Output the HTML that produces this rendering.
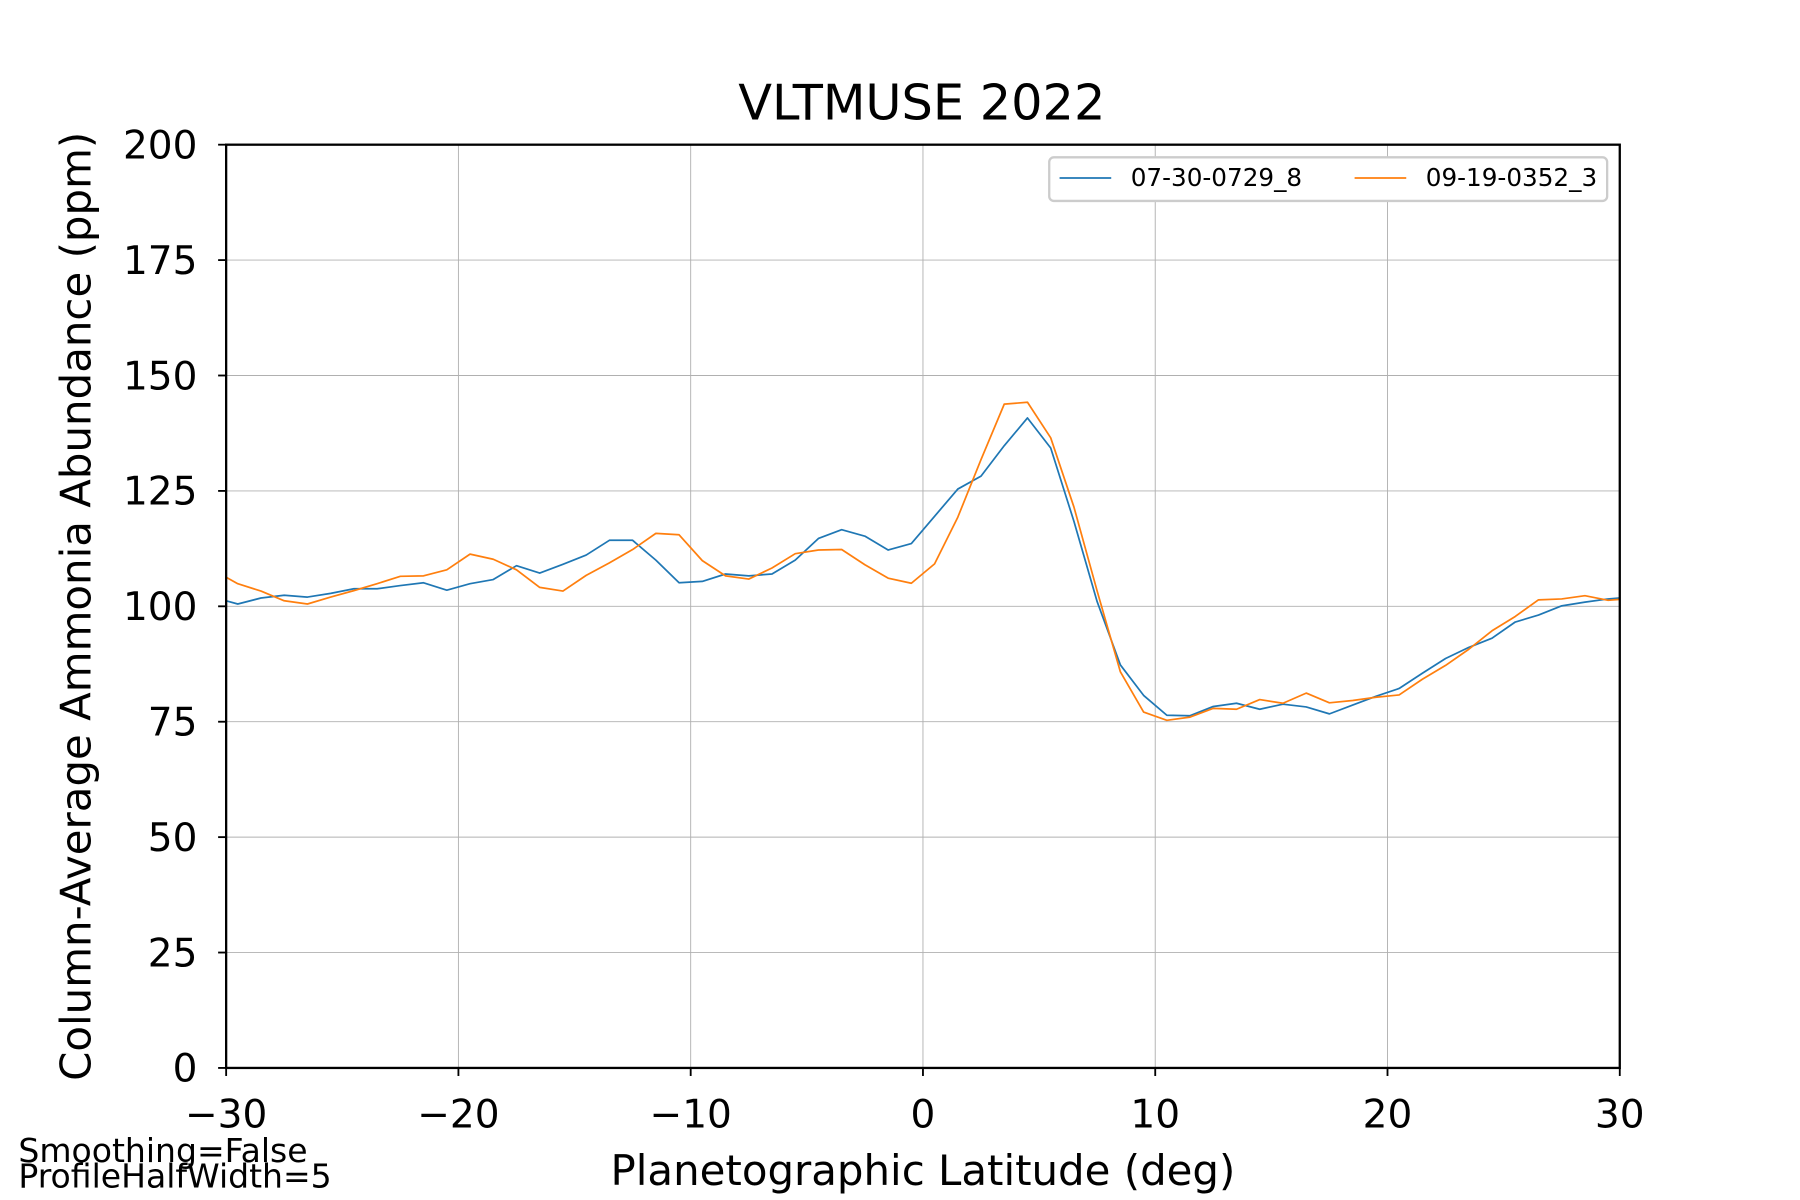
<!DOCTYPE html>
<html><head><meta charset="utf-8"><style>html,body{margin:0;padding:0;background:#fff}svg{display:block}text{font-family:"DejaVu Sans","Liberation Sans",sans-serif;fill:#000}</style></head>
<body>
<svg id="chart" width="1800" height="1200" viewBox="0 0 1568 1045" preserveAspectRatio="none" xmlns="http://www.w3.org/2000/svg">
<rect width="1568" height="1045" fill="#fff"/>
<g id="grid"></g>
<g id="series"></g>
<rect x="197" y="126" width="1214" height="804" fill="none" stroke="#000" stroke-width="2"/>
<g id="ticks"></g>
<text x="803" y="104" font-size="43" text-anchor="middle">VLTMUSE 2022</text>
<text x="804" y="1032" font-size="36.5" text-anchor="middle">Planetographic Latitude (deg)</text>
<text transform="translate(79,528) rotate(-90)" font-size="36.5" text-anchor="middle">Column-Average Ammonia Abundance (ppm)</text>
<text x="16" y="1012" font-size="28.8">Smoothing=False</text>
<text x="16" y="1034" font-size="28.8">ProfileHalfWidth=5</text>
<g>
<rect x="914" y="137" width="486" height="38" rx="4" fill="#fff" stroke="#ccc" stroke-width="2"/>
<line x1="923" y1="155" x2="968" y2="155" stroke="#1f77b4" stroke-width="1.6"/>
<text x="985" y="162" font-size="21.5">07-30-0729_8</text>
<line x1="1180" y1="155" x2="1225" y2="155" stroke="#ff7f0e" stroke-width="1.6"/>
<text x="1242" y="162" font-size="21.5">09-19-0352_3</text>
</g>
</svg>
<script>
const latitudes=[-30,-29.5,-28.5,-27.5,-26.5,-25.5,-24.5,-23.5,-22.5,-21.5,-20.5,-19.5,-18.5,-17.5,-16.5,-15.5,-14.5,-13.5,-12.5,-11.5,-10.5,-9.5,-8.5,-7.5,-6.5,-5.5,-4.5,-3.5,-2.5,-1.5,-0.5,0.5,1.5,2.5,3.5,4.5,5.5,6.5,7.5,8.5,9.5,10.5,11.5,12.5,13.5,14.5,15.5,16.5,17.5,18.5,19.5,20.5,21.5,22.5,23.5,24.5,25.5,26.5,27.5,28.5,29.5,30];
const seriesA=[101.2,100.5,101.8,102.4,102,102.8,103.8,103.8,104.5,105.1,103.5,104.9,105.8,108.8,107.2,109.1,111.1,114.3,114.3,110,105.1,105.4,107,106.6,107,110,114.7,116.6,115.2,112.2,113.6,119.5,125.4,128.2,134.8,140.8,134.3,118.4,101,87.3,80.7,76.4,76.3,78.3,79,77.7,78.8,78.2,76.7,78.6,80.5,82.2,85.5,88.7,91.1,93.1,96.6,98.1,100.1,100.9,101.6,101.8];
const seriesB=[106.3,104.9,103.3,101.2,100.5,102,103.4,104.9,106.5,106.6,107.9,111.3,110.2,107.9,104.1,103.3,106.7,109.4,112.3,115.8,115.5,109.9,106.6,105.9,108.3,111.4,112.2,112.3,109,106.1,105,109.2,119.3,131.8,143.8,144.2,136.5,121.5,103.3,85.8,77.1,75.3,76,77.9,77.7,79.8,79,81.2,79.1,79.6,80.3,80.8,84.2,87.2,90.7,94.7,97.8,101.4,101.6,102.3,101.3,101.5];
const xTicks=[-30,-20,-10,0,10,20,30];
const yTicks=[0,25,50,75,100,125,150,175,200];
const NS="http://www.w3.org/2000/svg";
const X=v=>197+(v+30)/60*1214;
const Y=v=>930-v/200*804;
function mk(t,a,p){const e=document.createElementNS(NS,t);for(const k in a)e.setAttribute(k,a[k]);p.appendChild(e);return e;}
const grid=document.getElementById('grid'),ticks=document.getElementById('ticks'),ser=document.getElementById('series');
xTicks.forEach(v=>{
 const g=mk('line',{x1:X(v),x2:X(v),y1:126,y2:930,stroke:'#b0b0b0','stroke-width':0.8},grid);
 
 
 mk('line',{x1:X(v),x2:X(v),y1:930,y2:937,stroke:'#000','stroke-width':1.6},ticks);
 const t=mk('text',{x:X(v),y:982,'font-size':34,'text-anchor':'middle'},ticks);
 t.textContent=v<0?'\u2212'+Math.abs(v):String(v);
 
 
});
yTicks.forEach(v=>{
 const g=mk('line',{x1:197,x2:1411,y1:Y(v),y2:Y(v),stroke:'#b0b0b0','stroke-width':0.8},grid);
 
 
 mk('line',{x1:190,x2:197,y1:Y(v),y2:Y(v),stroke:'#000','stroke-width':1.6},ticks);
 const t=mk('text',{x:172,y:Y(v)+12,'font-size':34,'text-anchor':'end'},ticks);
 t.textContent=String(v);
 
 
});
function line(vals,color,name){
 const d=vals.map((v,i)=>(i?'L':'M')+X(latitudes[i]).toFixed(2)+' '+Y(v).toFixed(2)).join(' ');
 const p=mk('path',{d:d,fill:'none',stroke:color,'stroke-width':1.5,'stroke-linejoin':'round'},ser);
 
 
}
line(seriesA,'#1f77b4','series-07-30-0729-8');
line(seriesB,'#ff7f0e','series-09-19-0352-3');
</script>
</body></html>
